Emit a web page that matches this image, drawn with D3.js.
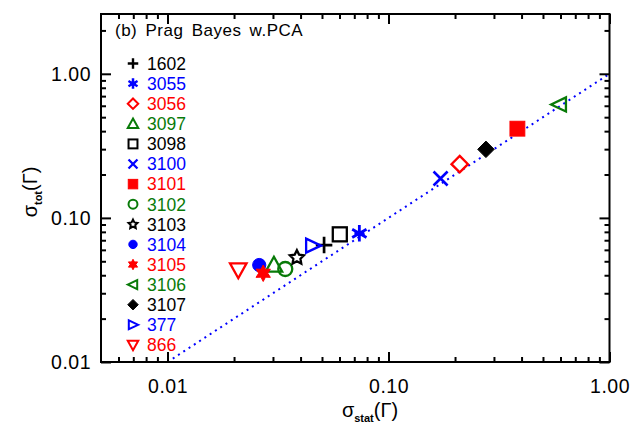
<!DOCTYPE html>
<html><head><meta charset="utf-8">
<script src="https://cdn.jsdelivr.net/npm/d3@7"></script>
<style>
html,body{margin:0;padding:0;background:#fff;}
svg{display:block;font-family:"Liberation Sans",Arial,sans-serif;}
</style></head>
<body><svg id="c" width="631" height="432"></svg>
<script>
const ids     = ["1602","3055","3056","3097","3098","3100","3101","3102","3103","3104","3105","3106","3107","377","866"];
const sigStat = [0.0511,0.0738,0.210,0.0303,0.0602,0.172,0.383,0.0341,0.0385,0.0260,0.0271,0.593,0.276,0.0454,0.0209];
const sigTot  = [0.0648,0.0781,0.236,0.0471,0.0769,0.1876,0.416,0.0442,0.0530,0.0471,0.0413,0.613,0.299,0.0642,0.0435];
const colors  = ["black","blue","red","green","black","blue","red","green","black","blue","red","green","black","blue","red"];
const symbols = ["plus","asterisk","diamond","triUp","square","cross","squareF","circle","star","circleF","star6F","triLeft","diamondF","triRight","triDown"];
const xTickLabels = ["0.01","0.10","1.00"];
const yTickLabels = ["0.01","0.10","1.00"];
const xMajor = [0.01,0.1,1];
const yMajor = [0.01,0.1,1];
const xMinor = [0.006,0.007,0.008,0.009,0.02,0.03,0.04,0.05,0.06,0.07,0.08,0.09,0.2,0.3,0.4,0.5,0.6,0.7,0.8,0.9];
const yMinor = [0.02,0.03,0.04,0.05,0.06,0.07,0.08,0.09,0.2,0.3,0.4,0.5,0.6,0.7,0.8,0.9,2];
const panelTitle = "(b) Prag Bayes w.PCA";

const colorMap = {black:"#000000", blue:"#0000ff", red:"#ff0000", green:"#087a08"};

const L=101, R=609.5, T=14, B=362;
const x = d3.scaleLog().domain([0.005,1.0]).range([L,R]);
const y = d3.scaleLog().domain([0.01,2.6]).range([B,T]);
const svg = d3.select("#c");

// dotted y=x line
svg.append("line")
  .attr("x1",x(0.01)).attr("y1",y(0.01)).attr("x2",x(1)).attr("y2",y(1))
  .attr("stroke","#0000ff").attr("stroke-width",2).attr("stroke-dasharray","2 4.3");

// axes
function styleAxis(g){ g.select(".domain").remove(); g.selectAll("line").attr("stroke","#000").attr("stroke-width",2); }
svg.append("g").attr("transform",`translate(0,${B})`)
  .call(d3.axisBottom(x).tickValues(xMajor).tickSize(-10).tickPadding(17).tickFormat((d,i)=>xTickLabels[i]))
  .call(styleAxis)
  .call(g=>g.selectAll("text").attr("font-size",19.5).attr("fill","#000").attr("letter-spacing",0.5).attr("font-family","Liberation Sans, Arial, sans-serif"));
svg.append("g").attr("transform",`translate(0,${B})`)
  .call(d3.axisBottom(x).tickValues(xMinor).tickSize(-5).tickFormat(""))
  .call(styleAxis);
svg.append("g").attr("transform",`translate(0,${T})`)
  .call(d3.axisTop(x).tickValues(xMajor).tickSize(-10).tickFormat(""))
  .call(styleAxis);
svg.append("g").attr("transform",`translate(0,${T})`)
  .call(d3.axisTop(x).tickValues(xMinor).tickSize(-5).tickFormat(""))
  .call(styleAxis);
svg.append("g").attr("transform",`translate(${L},0)`)
  .call(d3.axisLeft(y).tickValues(yMajor).tickSize(-10).tickPadding(10).tickFormat((d,i)=>yTickLabels[i]))
  .call(styleAxis)
  .call(g=>g.selectAll("text").attr("font-size",19.5).attr("fill","#000").attr("letter-spacing",0.5).attr("font-family","Liberation Sans, Arial, sans-serif"));
svg.append("g").attr("transform",`translate(${L},0)`)
  .call(d3.axisLeft(y).tickValues(yMinor).tickSize(-5).tickFormat(""))
  .call(styleAxis);
svg.append("g").attr("transform",`translate(${R},0)`)
  .call(d3.axisRight(y).tickValues(yMajor).tickSize(-10).tickFormat(""))
  .call(styleAxis);
svg.append("g").attr("transform",`translate(${R},0)`)
  .call(d3.axisRight(y).tickValues(yMinor).tickSize(-5).tickFormat(""))
  .call(styleAxis);

// frame
svg.append("rect").attr("x",L).attr("y",T).attr("width",R-L).attr("height",B-T)
  .attr("fill","none").attr("stroke","#000").attr("stroke-width",2);

// symbol drawing
function drawSym(g, type, cx, cy, s, col){
  const h = s/2;
  const sw = s>12 ? 2.3 : 2;
  const grp = g.append("g").attr("transform",`translate(${cx},${cy})`);
  const st = p=>p.attr("fill","none").attr("stroke",col).attr("stroke-width",sw);
  const fl = p=>p.attr("fill",col).attr("stroke",col).attr("stroke-width",1);
  const poly = pts=>"M"+pts.map(p=>p.join(",")).join("L")+"Z";
  switch(type){
    case "plus": st(grp.append("path").attr("d",`M${-h},0H${h}M0,${-h}V${h}`)).attr("stroke-width",sw+0.4); break;
    case "asterisk": {
      let d=""; for(let a of [90,30,150]){const r=a*Math.PI/180; d+=`M${-h*Math.cos(r)},${-h*Math.sin(r)}L${h*Math.cos(r)},${h*Math.sin(r)}`;}
      d+=`M${-h*0.6},0H${h*0.6}`;
      st(grp.append("path").attr("d",d)).attr("stroke-width",sw+0.5); break; }
    case "diamond": st(grp.append("path").attr("d",poly([[0,-h],[h,0],[0,h],[-h,0]]))); break;
    case "diamondF": fl(grp.append("path").attr("d",poly([[0,-h],[h,0],[0,h],[-h,0]]))); break;
    case "triUp": st(grp.append("path").attr("d",poly([[0,-h],[h,h*0.8],[-h,h*0.8]]))); break;
    case "triDown": st(grp.append("path").attr("d",poly([[0,h],[h,-h*0.8],[-h,-h*0.8]]))); break;
    case "triLeft": st(grp.append("path").attr("d",poly([[-h,0],[h*0.8,-h*0.85],[h*0.8,h*0.85]]))); break;
    case "triRight": st(grp.append("path").attr("d",poly([[h,0],[-h*0.8,-h*0.85],[-h*0.8,h*0.85]]))); break;
    case "square": st(grp.append("rect").attr("x",-h*0.85).attr("y",-h*0.85).attr("width",1.7*h).attr("height",1.7*h)); break;
    case "squareF": fl(grp.append("rect").attr("x",-h*0.9).attr("y",-h*0.9).attr("width",1.8*h).attr("height",1.8*h)); break;
    case "cross": st(grp.append("path").attr("d",`M${-h*0.85},${-h*0.85}L${h*0.85},${h*0.85}M${-h*0.85},${h*0.85}L${h*0.85},${-h*0.85}`)).attr("stroke-width",sw+0.3); break;
    case "circle": st(grp.append("circle").attr("r",h*0.85)); break;
    case "circleF": fl(grp.append("circle").attr("r",h*0.8)); break;
    case "star": {
      const pts=[]; for(let i=0;i<10;i++){const a=-Math.PI/2+i*Math.PI/5; const r=i%2?h*0.45:h*0.9; pts.push([r*Math.cos(a),r*Math.sin(a)]);}
      st(grp.append("path").attr("d",poly(pts))); break; }
    case "star6F": {
      const pts=[]; for(let i=0;i<12;i++){const a=-Math.PI/2+i*Math.PI/6; const r=i%2?h*0.55:h; pts.push([r*Math.cos(a),r*Math.sin(a)]);}
      fl(grp.append("path").attr("d",poly(pts))); break; }
  }
}

// data points
const pts = svg.append("g");
ids.forEach((id,i)=>{
  drawSym(pts, symbols[i], x(sigStat[i]), y(sigTot[i]), 16.5, colorMap[colors[i]]);
});

// panel title
svg.append("text").attr("x",115).attr("y",36).attr("font-size",17).attr("word-spacing",3)
  .attr("letter-spacing",0.5).attr("fill","#000").text(panelTitle);

// legend
const leg = svg.append("g");
ids.forEach((id,i)=>{
  const cy = 63.5 + i*20.1;
  drawSym(leg, symbols[i], 133, cy, 10.5, colorMap[colors[i]]);
  leg.append("text").attr("x",147).attr("y",cy).attr("dy","0.36em").attr("font-size",17.5)
    .attr("fill",colorMap[colors[i]]).text(id);
});

// axis titles
const xt = svg.append("text").attr("x",370).attr("y",417).attr("text-anchor","middle").attr("font-size",20).attr("fill","#000");
xt.append("tspan").text("σ");
xt.append("tspan").attr("font-size",11).attr("font-weight","bold").attr("dy",5).text("stat");
xt.append("tspan").attr("dy",-5).text("(Γ)");
const yt = svg.append("text").attr("transform","translate(37,192) rotate(-90)").attr("text-anchor","middle").attr("font-size",20).attr("fill","#000");
yt.append("tspan").text("σ");
yt.append("tspan").attr("font-size",11).attr("font-weight","bold").attr("dy",5).text("tot");
yt.append("tspan").attr("dy",-5).text("(Γ)");
</script></body></html>
